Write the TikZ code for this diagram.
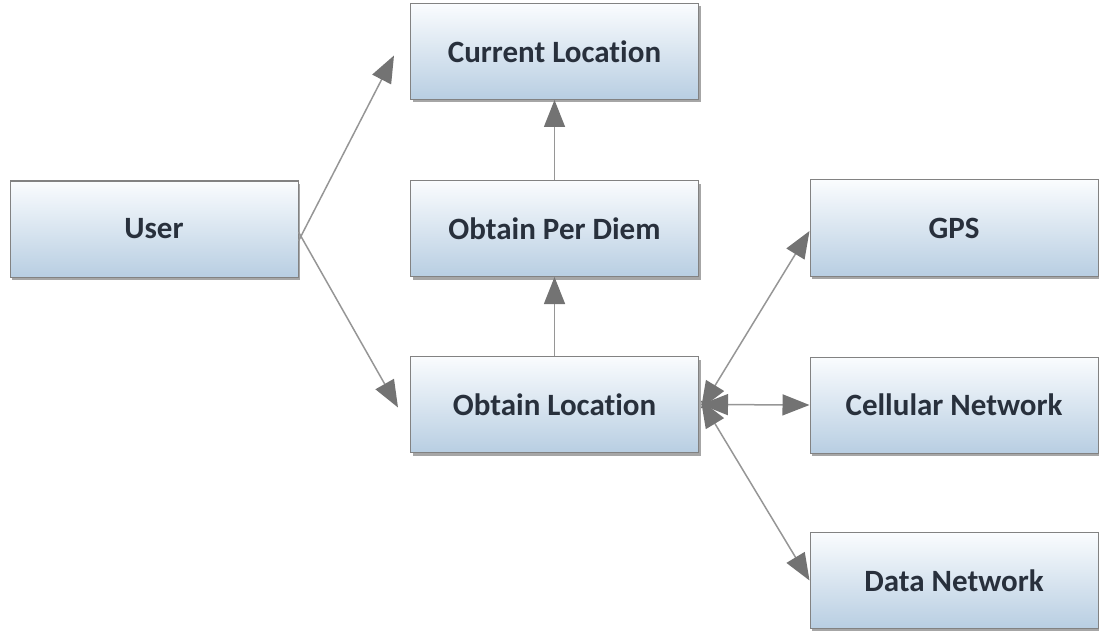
\documentclass[tikz,border=0pt]{standalone}
\usepackage{fontspec}
\setmainfont{Carlito}[Ligatures=NoCommon]
\usetikzlibrary{arrows.meta,shadows}
\definecolor{boxtop}{RGB}{250,252,254}
\definecolor{boxbot}{RGB}{184,206,226}
\definecolor{boxline}{RGB}{130,130,130}
\definecolor{txt}{RGB}{40,48,60}
\definecolor{linegray}{RGB}{150,150,150}
\definecolor{tipgray}{RGB}{115,115,115}
\tikzset{
  box/.style={draw=boxline, line width=1pt, top color=boxtop, bottom color=boxbot,
    minimum width=288pt, minimum height=96pt, inner sep=0pt,
    font=\fontsize{31}{36}\selectfont\bfseries, text=txt,
    drop shadow={shadow xshift=2pt, shadow yshift=-3pt, fill=black, opacity=0.35}},
  gtip/.tip={Triangle[length=27pt,width=21pt,fill=tipgray,color=tipgray]},
  arr/.style={draw=linegray, line width=1.5pt, -gtip},
  biarr/.style={draw=linegray, line width=1.5pt, gtip-gtip}
}
\begin{document}
\begin{tikzpicture}[x=1pt,y=-1pt]
\useasboundingbox (0,0) rectangle (1099,631);
\node[box] (user) at (154,229) {User};
\node[box] (cur)  at (554.5,51.5) {Current Location};
\node[box] (pd)   at (554.5,228.5) {Obtain Per Diem};
\node[box] (ol)   at (554.5,404.5) {Obtain Location};
\node[box] (gps)  at (954,228) {GPS};
\node[box] (cell) at (954,405) {Cellular Network};
\node[box] (data) at (954,580.5) {Data Network};
% arrows from the user
\draw[arr] ([yshift=-12pt]user.east) -- ([xshift=-16pt,yshift=-4pt]cur.west);
\draw[arr] ([yshift=-3pt]user.east) -- ([xshift=-12pt,yshift=-3pt]ol.west);
% vertical flow
\draw[arr] (pd.north) -- (cur.south);
\draw[arr] (ol.north) -- (pd.south);
% location sources
\coordinate (hub) at ([xshift=2pt]ol.east);
\draw[biarr] ([yshift=-4pt]hub) -- ([yshift=-3pt]gps.west);
\draw[biarr] (hub) -- (cell.west);
\draw[biarr] ([yshift=4pt]hub) -- (data.west);
\end{tikzpicture}
\end{document}
